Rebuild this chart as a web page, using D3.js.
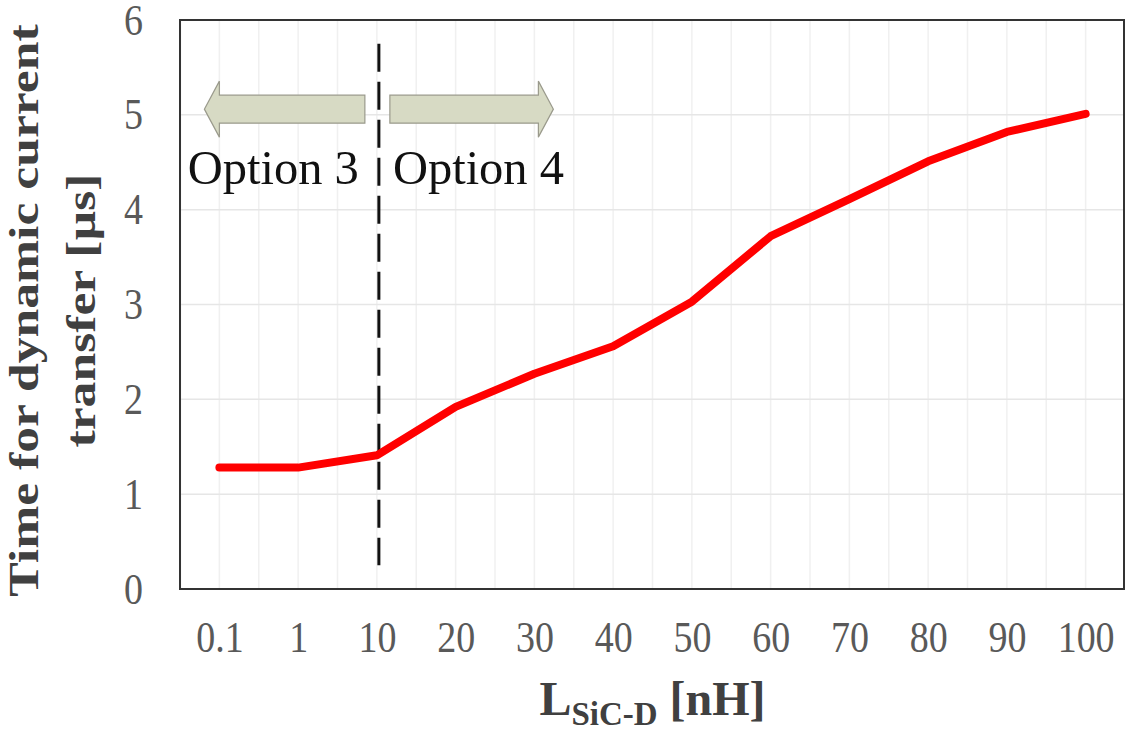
<!DOCTYPE html>
<html>
<head>
<meta charset="utf-8">
<script src="https://cdn.jsdelivr.net/npm/d3@7"></script>
<style>
  html, body { margin: 0; padding: 0; background: #ffffff; }
  svg { display: block; font-family: "Liberation Serif", "Times New Roman", serif; }
</style>
</head>
<body>
<script>
var categories = ["0.1", "1", "10", "20", "30", "40", "50", "60", "70", "80", "90", "100"];
var transferTime = [1.28, 1.28, 1.41, 1.92, 2.27, 2.56, 3.03, 3.72, 4.11, 4.51, 4.82, 5.01];
var yTicks = [0, 1, 2, 3, 4, 5, 6];
var splitAt = "10";
var optionLabels = ["Option 3", "Option 4"];

var width = 1128, height = 733;
var margin = {left: 180, right: 3, top: 20, bottom: 144};

var svg = d3.select("body").append("svg")
    .attr("width", width)
    .attr("height", height);

var x = d3.scalePoint()
    .domain(categories)
    .range([margin.left, width - margin.right])
    .padding(0.5);

var y = d3.scaleLinear()
    .domain([0, 6])
    .range([height - margin.bottom, margin.top]);

var step = x.step();

// faint grid
var grid = svg.append("g").attr("class", "grid");
var halfSteps = [];
categories.forEach(function(c, i){
  halfSteps.push(x(c));
  if(i < categories.length - 1) halfSteps.push(x(c) + step/2);
});
halfSteps.push(x(categories[0]) - step/2 + 0.5);

grid.selectAll(".vgrid")
    .data(halfSteps)
  .enter().append("line")
    .attr("class", "vgrid")
    .attr("x1", function(d){ return d; })
    .attr("x2", function(d){ return d; })
    .attr("y1", y(6))
    .attr("y2", y(0))
    .style("stroke", "#f0f0f0")
    .style("stroke-width", 1.5);

grid.selectAll(".hgrid")
    .data(yTicks.slice(1, -1))
  .enter().append("line")
    .attr("class", "hgrid")
    .attr("x1", x.range()[0])
    .attr("x2", x.range()[1])
    .attr("y1", function(d){ return y(d); })
    .attr("y2", function(d){ return y(d); })
    .style("stroke", "#e6e6e6")
    .style("stroke-width", 1.5);

// split line
svg.append("line")
    .attr("x1", x(splitAt) + 2)
    .attr("x2", x(splitAt) + 2)
    .attr("y1", y(5.75))
    .attr("y2", y(0.25))
    .style("stroke", "#111111")
    .style("stroke-width", 3)
    .style("stroke-dasharray", "28,10");

// option arrows
function arrowPath(x0, x1, yc, dir){
  var sh = 14, hh = 28, hl = 15;
  var base = x1 - dir*hl;
  return "M" + x0 + "," + (yc - sh) +
    "L" + base + "," + (yc - sh) +
    "L" + base + "," + (yc - hh) +
    "L" + x1 + "," + yc +
    "L" + base + "," + (yc + hh) +
    "L" + base + "," + (yc + sh) +
    "L" + x0 + "," + (yc + sh) + "Z";
}
var arrowY = y(5.06);
svg.append("path")
    .attr("d", arrowPath(x(splitAt) - 12, x(categories[0]) - 15, arrowY, -1))
    .style("fill", "#d7dac4")
    .style("stroke", "#9a9a8c")
    .style("stroke-width", 1.2);
svg.append("path")
    .attr("d", arrowPath(x(splitAt) + 13, x(categories[4]) + 19, arrowY, 1))
    .style("fill", "#d7dac4")
    .style("stroke", "#9a9a8c")
    .style("stroke-width", 1.2);

svg.append("text")
    .attr("x", x(splitAt) - 18)
    .attr("y", y(4.27))
    .attr("text-anchor", "end")
    .style("font-size", "48.5px")
    .style("fill", "#111")
    .text(optionLabels[0]);
svg.append("text")
    .attr("x", x(splitAt) + 16)
    .attr("y", y(4.27))
    .style("font-size", "48.5px")
    .style("fill", "#111")
    .text(optionLabels[1]);

// data line
var line = d3.line()
    .x(function(d, i){ return x(categories[i]); })
    .y(function(d){ return y(d); });

svg.append("path")
    .datum(transferTime)
    .attr("d", line)
    .style("fill", "none")
    .style("stroke", "#ff0000")
    .style("stroke-width", 8)
    .style("stroke-linejoin", "round")
    .style("stroke-linecap", "round");

// plot frame
svg.append("rect")
    .attr("x", x.range()[0])
    .attr("y", y(6))
    .attr("width", x.range()[1] - x.range()[0] - 1)
    .attr("height", y(0) - y(6))
    .style("fill", "none")
    .style("stroke", "#333333")
    .style("stroke-width", 2);

// axes
var xAxis = svg.append("g")
    .attr("transform", "translate(0," + y(0) + ")")
    .call(d3.axisBottom(x).tickSize(0));
xAxis.select(".domain").remove();
xAxis.selectAll("text")
    .attr("y", 0)
    .attr("dy", 0)
    .attr("transform", "translate(0,63) scale(1,1.15)")
    .style("font-family", "Liberation Serif, Times New Roman, serif")
    .style("font-size", "38px")
    .style("fill", "#595959");

var yAxis = svg.append("g")
    .attr("transform", "translate(" + x.range()[0] + ",0)")
    .call(d3.axisLeft(y).tickValues(yTicks).tickFormat(d3.format("d")).tickSize(0));
yAxis.select(".domain").remove();
yAxis.selectAll("text")
    .attr("x", 0)
    .attr("dy", 0)
    .attr("transform", "translate(-37,14) scale(1,1.15)")
    .style("font-family", "Liberation Serif, Times New Roman, serif")
    .style("font-size", "38px")
    .style("fill", "#595959");

// axis titles
var xt = svg.append("text")
    .attr("x", (x.range()[0] + x.range()[1]) / 2)
    .attr("y", 715)
    .attr("text-anchor", "middle")
    .style("font-weight", "bold")
    .style("font-size", "48px")
    .style("fill", "#404040");
xt.append("tspan").text("L");
xt.append("tspan").attr("dy", 10).style("font-size", "33px").text("SiC-D");
xt.append("tspan").attr("dy", -10).text(" [nH]");

var yt = svg.append("g")
    .attr("transform", "translate(0," + ((y(0) + y(6)) / 2 + 6) + ") scale(1,1.23) rotate(-90)");
yt.append("text")
    .attr("x", 0)
    .attr("y", 38)
    .attr("text-anchor", "middle")
    .style("font-weight", "bold")
    .style("font-size", "42px")
    .style("fill", "#404040")
    .text("Time for dynamic current");
yt.append("text")
    .attr("x", 0)
    .attr("y", 95)
    .attr("text-anchor", "middle")
    .style("font-weight", "bold")
    .style("font-size", "42px")
    .style("fill", "#404040")
    .text("transfer [µs]");
</script>
</body>
</html>
